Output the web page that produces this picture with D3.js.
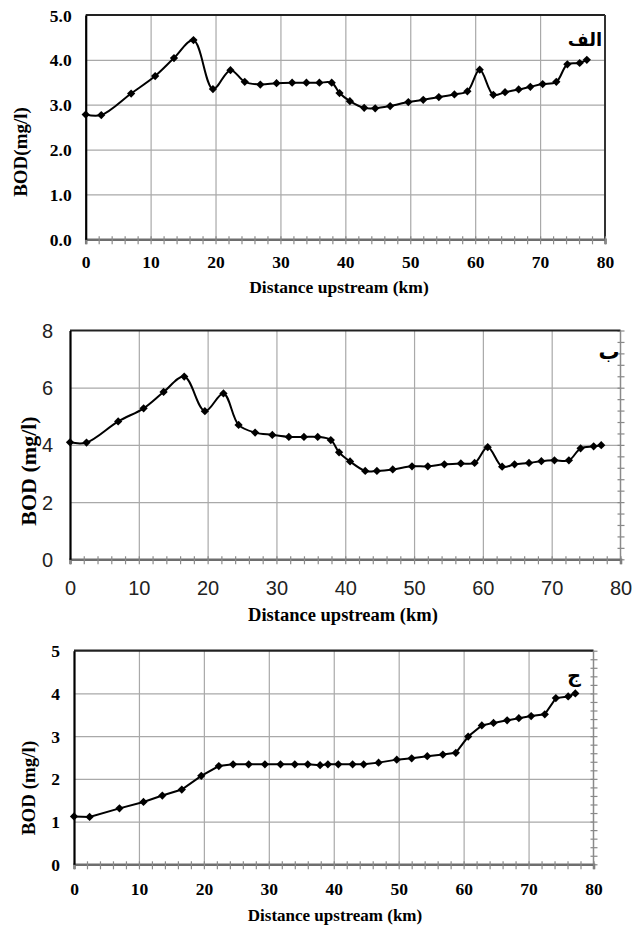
<!DOCTYPE html>
<html>
<head>
<meta charset="utf-8">
<script src="https://cdn.jsdelivr.net/npm/d3@7"></script>
<style>
  html, body { margin: 0; padding: 0; background: #fff; }
  svg { display: block; }
</style>
</head>
<body>
<svg id="chart" width="632" height="926"></svg>
<script>
// ---------- DATA ----------
const distanceKm = [0, 2.4, 7.0, 10.7, 13.6, 16.6, 19.6, 22.3, 24.5, 26.9, 29.4, 31.8, 34.0, 36.0, 37.9, 39.1, 40.7, 42.9, 44.6, 46.9, 49.7, 52.0, 54.4, 56.8, 58.8, 60.7, 62.8, 64.6, 66.7, 68.5, 70.4, 72.5, 74.2, 76.1, 77.2];

const bodAlef = [2.78, 2.77, 3.25, 3.64, 4.04, 4.44, 3.35, 3.77, 3.51, 3.45, 3.48, 3.49, 3.49, 3.49, 3.49, 3.26, 3.08, 2.93, 2.92, 2.97, 3.06, 3.11, 3.17, 3.23, 3.30, 3.78, 3.22, 3.28, 3.34, 3.40, 3.46, 3.51, 3.90, 3.93, 4.00];

const bodBe = [4.09, 4.08, 4.82, 5.28, 5.85, 6.39, 5.18, 5.80, 4.70, 4.43, 4.35, 4.28, 4.28, 4.28, 4.17, 3.74, 3.42, 3.09, 3.09, 3.14, 3.25, 3.25, 3.32, 3.35, 3.37, 3.92, 3.24, 3.32, 3.37, 3.43, 3.46, 3.46, 3.88, 3.95, 3.99];

const bodJim = [1.12, 1.11, 1.31, 1.46, 1.61, 1.75, 2.07, 2.30, 2.34, 2.34, 2.34, 2.34, 2.34, 2.34, 2.32, 2.34, 2.34, 2.34, 2.34, 2.38, 2.45, 2.48, 2.53, 2.57, 2.61, 2.99, 3.25, 3.31, 3.37, 3.42, 3.47, 3.51, 3.89, 3.93, 4.00];

const xTickValues = [0, 10, 20, 30, 40, 50, 60, 70, 80];
const yTicksAlef = [0, 1, 2, 3, 4, 5];
const yTicksBe = [0, 2, 4, 6, 8];
const yTicksJim = [0, 1, 2, 3, 4, 5];

const panelLabels = ["الف", "ب", "ج"];
const xTitle = "Distance upstream (km)";
const yTitles = ["BOD(mg/l)", "BOD (mg/l)", "BOD (mg/l)"];

// ---------- DRAWING ----------
const svg = d3.select("#chart");
const serif = "'Liberation Serif', 'Times New Roman', serif";
const narrow = "'Liberation Sans Narrow', 'Arial Narrow', 'Liberation Sans', sans-serif";

const panels = [
  { values: bodAlef, yTicks: yTicksAlef, yMax: 5, fmt: d3.format(".1f"),
    left: 85.7, right: 605, top: 15, bottom: 239.3,
    tickFont: serif, tickWeight: "bold", tickSize: 17.5, tickColor: "#000",
    xLabelOff: 23, yLabelOff: 14,
    xTitleX: 339, xTitleY: 287, xTitleSize: 17.5,
    yTitleX: 20, yTitleY: 152, yTitleSize: 19,
    label: panelLabels[0], labelX: 585, labelY: 40, labelSize: 18,
    rightStyle: "dark", rightMinor: null, curve: d3.curveCatmullRom.alpha(0.5), yTitle: yTitles[0] },
  { values: bodBe, yTicks: yTicksBe, yMax: 8, fmt: d3.format("d"),
    left: 70, right: 620.5, top: 330.5, bottom: 559.3,
    tickFont: narrow, tickWeight: "normal", tickSize: 20, tickColor: "#222",
    xLabelOff: 29, yLabelOff: 17,
    xTitleX: 343, xTitleY: 615, xTitleSize: 18.5,
    yTitleX: 28, yTitleY: 471, yTitleSize: 22,
    label: panelLabels[1], labelX: 609, labelY: 352, labelSize: 21,
    rightStyle: "light", rightMinor: 0.4, curve: d3.curveCatmullRom.alpha(0.5), yTitle: yTitles[1] },
  { values: bodJim, yTicks: yTicksJim, yMax: 5, fmt: d3.format("d"),
    left: 74, right: 593.5, top: 650.7, bottom: 864.3,
    tickFont: serif, tickWeight: "bold", tickSize: 17.5, tickColor: "#000",
    xLabelOff: 25, yLabelOff: 14,
    xTitleX: 335, xTitleY: 915, xTitleSize: 17,
    yTitleX: 28, yTitleY: 788, yTitleSize: 19,
    label: panelLabels[2], labelX: 574, labelY: 675, labelSize: 19,
    rightStyle: "light", rightMinor: 0.2, curve: d3.curveLinear, yTitle: yTitles[2] }
];

panels.forEach(p => {
  const g = svg.append("g");
  const x = d3.scaleLinear().domain([0, 80]).range([p.left, p.right]);
  const y = d3.scaleLinear().domain([0, p.yMax]).range([p.bottom, p.top]);

  // gridlines
  g.append("g")
    .attr("transform", `translate(0,${p.bottom})`)
    .call(d3.axisBottom(x).tickValues(xTickValues.filter(v => v > 0 && v < 80)).tickSize(-(p.bottom - p.top)).tickFormat(""))
    .call(a => a.select(".domain").remove())
    .call(a => a.selectAll("line").attr("stroke", "#a9a9a9").attr("stroke-width", 1.2));
  g.append("g")
    .attr("transform", `translate(${p.left},0)`)
    .call(d3.axisLeft(y).tickValues(p.yTicks.filter(v => v > 0 && v < p.yMax)).tickSize(-(p.right - p.left)).tickFormat(""))
    .call(a => a.select(".domain").remove())
    .call(a => a.selectAll("line").attr("stroke", "#a9a9a9").attr("stroke-width", 1.2));

  // right minor ticks
  if (p.rightMinor) {
    const vals = d3.range(0, p.yMax + 1e-9, p.rightMinor);
    g.append("g")
      .attr("transform", `translate(${p.right},0)`)
      .call(d3.axisRight(y).tickValues(vals).tickSize(4).tickFormat(""))
      .call(a => a.select(".domain").remove())
      .call(a => a.selectAll("line").attr("x1", -3).attr("x2", 4).attr("stroke", "#888").attr("stroke-width", 1.2));
  }

  // borders: top and right
  g.append("line").attr("x1", p.left).attr("x2", p.right).attr("y1", p.top).attr("y2", p.top)
    .attr("stroke", "#222").attr("stroke-width", 2.2);
  g.append("line").attr("x1", p.right).attr("x2", p.right).attr("y1", p.top).attr("y2", p.bottom)
    .attr("stroke", p.rightStyle === "dark" ? "#333" : "#8a8a8a")
    .attr("stroke-width", p.rightStyle === "dark" ? 2 : 1.5);

  // bottom axis with minor ticks every 2 km
  g.append("g")
    .attr("transform", `translate(0,${p.bottom})`)
    .call(d3.axisBottom(x).tickValues(d3.range(0, 81, 2)).tickSize(5).tickFormat(""))
    .call(a => a.select(".domain").attr("stroke", "#6e6e6e").attr("stroke-width", 2.5))
    .call(a => a.selectAll(".tick line").attr("y1", -3).attr("y2", 5).attr("stroke", "#8a8a8a").attr("stroke-width", 1.2));

  // bottom labels
  g.append("g")
    .attr("transform", `translate(0,${p.bottom})`)
    .call(d3.axisBottom(x).tickValues(xTickValues).tickSize(0).tickFormat(d3.format("d")))
    .call(a => a.select(".domain").remove())
    .call(a => a.selectAll("text").attr("y", p.xLabelOff).attr("dy", "0.35em")
      .attr("font-family", p.tickFont).attr("font-weight", p.tickWeight)
      .attr("font-size", p.tickSize).attr("fill", p.tickColor));

  // left axis
  g.append("g")
    .attr("transform", `translate(${p.left},0)`)
    .call(d3.axisLeft(y).tickValues(p.yTicks).tickSize(0).tickFormat(p.fmt))
    .call(a => a.select(".domain").attr("stroke", "#000").attr("stroke-width", 2.2))
    .call(a => a.selectAll("text").attr("x", -p.yLabelOff).attr("dy", "0.35em")
      .attr("font-family", p.tickFont).attr("font-weight", p.tickWeight)
      .attr("font-size", p.tickSize).attr("fill", p.tickColor));

  // line
  const line = d3.line().x((d, i) => x(distanceKm[i])).y(d => y(d)).curve(p.curve);
  g.append("path").datum(p.values)
    .attr("d", line).attr("fill", "none").attr("stroke", "#000").attr("stroke-width", 2);

  // markers
  const sym = d3.symbol().type(d3.symbolSquare).size(34);
  g.selectAll(".mk").data(p.values).join("path")
    .attr("class", "mk")
    .attr("d", sym)
    .attr("transform", (d, i) => `translate(${x(distanceKm[i])},${y(d)}) rotate(45)`)
    .attr("fill", "#000");

  // titles
  g.append("text").attr("x", p.xTitleX).attr("y", p.xTitleY).attr("dy", "0.35em")
    .attr("text-anchor", "middle").attr("font-family", serif).attr("font-weight", "bold")
    .attr("font-size", p.xTitleSize).text(xTitle);
  g.append("text")
    .attr("transform", `translate(${p.yTitleX},${p.yTitleY}) rotate(-90)`)
    .attr("dy", "0.35em")
    .attr("text-anchor", "middle").attr("font-family", serif).attr("font-weight", "bold")
    .attr("font-size", p.yTitleSize).text(p.yTitle);

  // panel label
  g.append("text").attr("x", p.labelX).attr("y", p.labelY).attr("dy", "0.35em")
    .attr("text-anchor", "middle").attr("font-family", "'DejaVu Sans', 'Noto Sans', sans-serif")
    .attr("font-weight", "bold").attr("font-size", p.labelSize).text(p.label);
});
</script>
</body>
</html>
